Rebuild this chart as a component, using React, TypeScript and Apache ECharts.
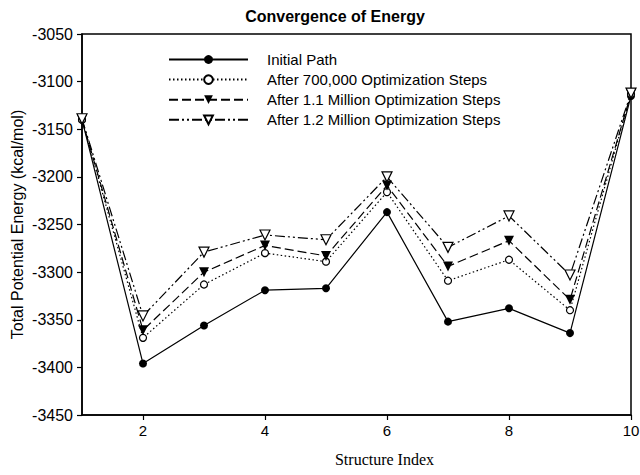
import React, { useEffect, useRef } from "react";
import * as echarts from "echarts";

const structureIndex = [1, 2, 3, 4, 5, 6, 7, 8, 9, 10];
const initialPath = [-3140, -3396, -3356, -3319, -3317, -3237, -3352, -3338, -3364, -3115];
const after700k = [-3140, -3369, -3313, -3280, -3289, -3216, -3309, -3287, -3340, -3113];
const after1_1M = [-3140, -3361, -3300, -3272, -3283, -3209, -3294, -3267, -3329, -3113];
const after1_2M = [-3139, -3346, -3279, -3261, -3266, -3200, -3274, -3241, -3303, -3112];
const xTicks = [2, 4, 6, 8, 10];
const seriesNames = [
  "Initial Path",
  "After 700,000 Optimization Steps",
  "After 1.1 Million Optimization Steps",
  "After 1.2 Million Optimization Steps",
];

const pairs = (vals: number[]) => structureIndex.map((x, i) => [x, vals[i]]);

export default function App() {
  const ref = useRef<HTMLDivElement>(null);
  useEffect(() => {
    if (!ref.current) return;
    const chart = echarts.init(ref.current, null, { renderer: "svg" });
    const font = "'Liberation Sans', Arial, sans-serif";
    chart.setOption({
      animation: false,
      backgroundColor: "#ffffff",
      title: {
        text: "Convergence of Energy",
        left: 330,
        textAlign: "center",
        top: 3,
        textStyle: { fontFamily: font, fontSize: 16, fontWeight: "bold", color: "#000" },
      },
      grid: {
        left: 82,
        right: 9,
        top: 34,
        height: 381,
        show: true,
        borderColor: "#000",
        borderWidth: 1.5,
        backgroundColor: "transparent",
        containLabel: false,
        outerBoundsMode: "none",
      },
      legend: {
        orient: "vertical",
        left: 163,
        top: 47,
        itemWidth: 79,
        itemHeight: 11,
        itemGap: 5.1,
        data: seriesNames,
        textStyle: { fontFamily: font, fontSize: 15, color: "#000", padding: [0, 0, 0, 14] },
      },
      xAxis: {
        type: "value",
        min: 1,
        max: 10,
        name: "Structure Index",
        nameLocation: "middle",
        nameGap: 36,
        nameMoveOverlap: false,
        nameTextStyle: {
          fontFamily: "'Liberation Serif', 'Times New Roman', serif",
          fontSize: 16,
          color: "#000",
          padding: [0, 0, 0, 56],
        },
        axisLine: { lineStyle: { color: "#000", width: 1.5 } },
        axisTick: { inside: false, length: 5, lineStyle: { color: "#000", width: 1.2 }, customValues: xTicks },
        axisLabel: { fontFamily: font, fontSize: 15, color: "#000", margin: 8, customValues: xTicks },
        splitLine: { show: false },
      },
      yAxis: {
        type: "value",
        min: -3450,
        max: -3050,
        interval: 50,
        name: "Total Potential Energy (kcal/mol)",
        nameLocation: "middle",
        nameGap: 57,
        nameMoveOverlap: false,
        nameTextStyle: { fontFamily: font, fontSize: 16, color: "#000" },
        axisLine: { show: true, lineStyle: { color: "#000", width: 1.5 } },
        axisTick: { show: true, inside: false, length: 5, lineStyle: { color: "#000", width: 1.2 } },
        axisLabel: {
          fontFamily: font,
          fontSize: 16,
          color: "#000",
          margin: 9,
          formatter: (v: number) => String(v),
        },
        splitLine: { show: false },
      },
      series: [
        {
          name: seriesNames[0],
          type: "line",
          data: pairs(initialPath),
          symbol: "circle",
          symbolSize: 8,
          itemStyle: { color: "#000" },
          lineStyle: { color: "#000", width: 1.2, type: "solid" },
        },
        {
          name: seriesNames[1],
          type: "line",
          data: pairs(after700k),
          symbol: "circle",
          symbolSize: 7,
          itemStyle: { color: "#fff", borderColor: "#000", borderWidth: 1.2 },
          lineStyle: { color: "#000", width: 1.2, type: [1.5, 2.5] },
        },
        {
          name: seriesNames[2],
          type: "line",
          data: pairs(after1_1M),
          symbol: "triangle",
          symbolRotate: 180,
          symbolSize: 10,
          itemStyle: { color: "#000" },
          lineStyle: { color: "#000", width: 1.2, type: [9, 4] },
        },
        {
          name: seriesNames[3],
          type: "line",
          data: pairs(after1_2M),
          symbol: "triangle",
          symbolRotate: 180,
          symbolSize: 10,
          itemStyle: { color: "#fff", borderColor: "#000", borderWidth: 1.2 },
          lineStyle: { color: "#000", width: 1.2, type: [10, 3, 2, 3, 2, 3] },
        },
      ],
    });
    return () => chart.dispose();
  }, []);
  return <div ref={ref} style={{ width: 640, height: 475, position: "absolute", left: 0, top: 0 }} />;
}
